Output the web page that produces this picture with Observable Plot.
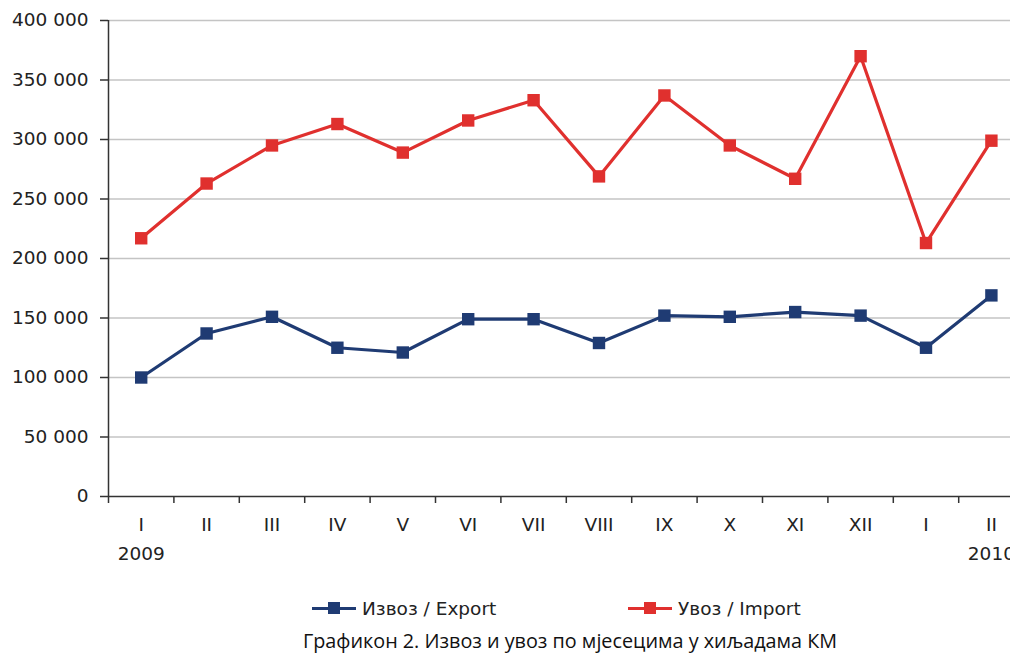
<!DOCTYPE html>
<html>
<head>
<meta charset="utf-8">
<script src="https://cdn.jsdelivr.net/npm/d3@7"></script>
<script src="https://cdn.jsdelivr.net/npm/@observablehq/plot@0.6"></script>
<style>
  html, body { margin: 0; padding: 0; background: #fff; overflow: hidden; width: 1010px; height: 654px; }
  #chart { position: absolute; left: 0; top: 0; }
  #legend { position: absolute; top: 596px; left: 0; width: 1010px; height: 24px; font-family: "DejaVu Sans", sans-serif; font-size: 18.5px; color: #222; }
  .item { position: absolute; top: 0; display: flex; align-items: center; }
  .swatch { position: relative; width: 44px; height: 24px; margin-right: 6px; }
  .swatch .ln { position: absolute; left: 0; right: 0; top: 10.5px; height: 3px; }
  .swatch .mk { position: absolute; left: 16px; top: 6px; width: 12px; height: 12px; }
  #caption { position: absolute; top: 627px; left: 0; width: 1140px; text-align: center; font-family: "Open Sans", "Noto Sans", sans-serif; font-size: 19.8px; color: #111; }
</style>
</head>
<body>
<div id="chart"></div>
<div id="legend"></div>
<div id="caption"></div>
<script>
const months = ["I","II","III","IV","V","VI","VII","VIII","IX","X","XI","XII","I","II"];
const yearLabels = ["2009", "2010"];
const yearIndex = [0, 13];
const exportValues = [100000,137000,151000,125000,121000,149000,149000,129000,152000,151000,155000,152000,125000,169000];
const importValues = [217000,263000,295000,313000,289000,316000,333000,269000,337000,295000,267000,370000,213000,299000];
const seriesNames = ["Извоз / Export", "Увоз / Import"];
const seriesColors = ["#1f3b73", "#e0302e"];
const yTicks = [0,50000,100000,150000,200000,250000,300000,350000,400000];
const captionText = "Графикон 2. Извоз и увоз по мјесецима у хиљадама КМ";

const rows = [];
months.forEach((m, i) => {
  rows.push({i, month: m, series: seriesNames[0], value: exportValues[i]});
  rows.push({i, month: m, series: seriesNames[1], value: importValues[i]});
});
const fmt = d => d3.format(",")(d).replace(/,/g, " ");

const plot = Plot.plot({
  width: 1010,
  height: 575,
  marginTop: 20,
  marginBottom: 79,
  marginLeft: 108,
  marginRight: 0,
  style: {fontFamily: "DejaVu Sans, sans-serif", fontSize: "18.5px", color: "#222", overflow: "visible"},
  x: {type: "linear", domain: [0, months.length], range: [108, 108 + 65.4 * months.length], axis: null},
  y: {domain: [0, 400000], axis: null},
  color: {domain: seriesNames, range: seriesColors},
  marks: [
    Plot.gridY(yTicks.filter(d => d > 0), {stroke: "#c4c4c4", strokeOpacity: 1, strokeWidth: 1.5}),
    Plot.axisY(yTicks, {tickFormat: fmt, tickSize: 8, tickPadding: 12, stroke: "#333", strokeWidth: 1.5, fill: "#222", fontSize: 18.5, label: null}),
    Plot.ruleX([0], {stroke: "#333", strokeWidth: 1.5}),
    Plot.ruleY([0], {stroke: "#333", strokeWidth: 1.5}),
    Plot.axisX(d3.range(months.length + 1), {tickFormat: () => "", tickSize: 7, stroke: "#333", strokeWidth: 1.5, label: null}),
    Plot.text(months, {x: (d, i) => i + 0.5, y: () => 0, text: d => d, dy: 29, fill: "#222", fontSize: 18.5}),
    Plot.text(yearLabels, {x: (d, i) => yearIndex[i] + 0.5, y: () => 0, text: d => d, dy: 58, fill: "#222", fontSize: 18.5}),
    Plot.line(rows, {x: d => d.i + 0.5, y: "value", z: "series", stroke: "series", strokeWidth: 3.2}),
    Plot.dot(rows, {x: d => d.i + 0.5, y: "value", fill: "series", symbol: "square", r: 7, stroke: null})
  ]
});
document.getElementById("chart").appendChild(plot);

const legend = document.getElementById("legend");
const legendX = [312, 628];
seriesNames.forEach((name, k) => {
  const item = document.createElement("div");
  item.className = "item";
  item.style.left = legendX[k] + "px";
  item.innerHTML = `<div class="swatch"><div class="ln" style="background:${seriesColors[k]}"></div><div class="mk" style="background:${seriesColors[k]}"></div></div><span>${name}</span>`;
  legend.appendChild(item);
});
document.getElementById("caption").textContent = captionText;
</script>
</body>
</html>
